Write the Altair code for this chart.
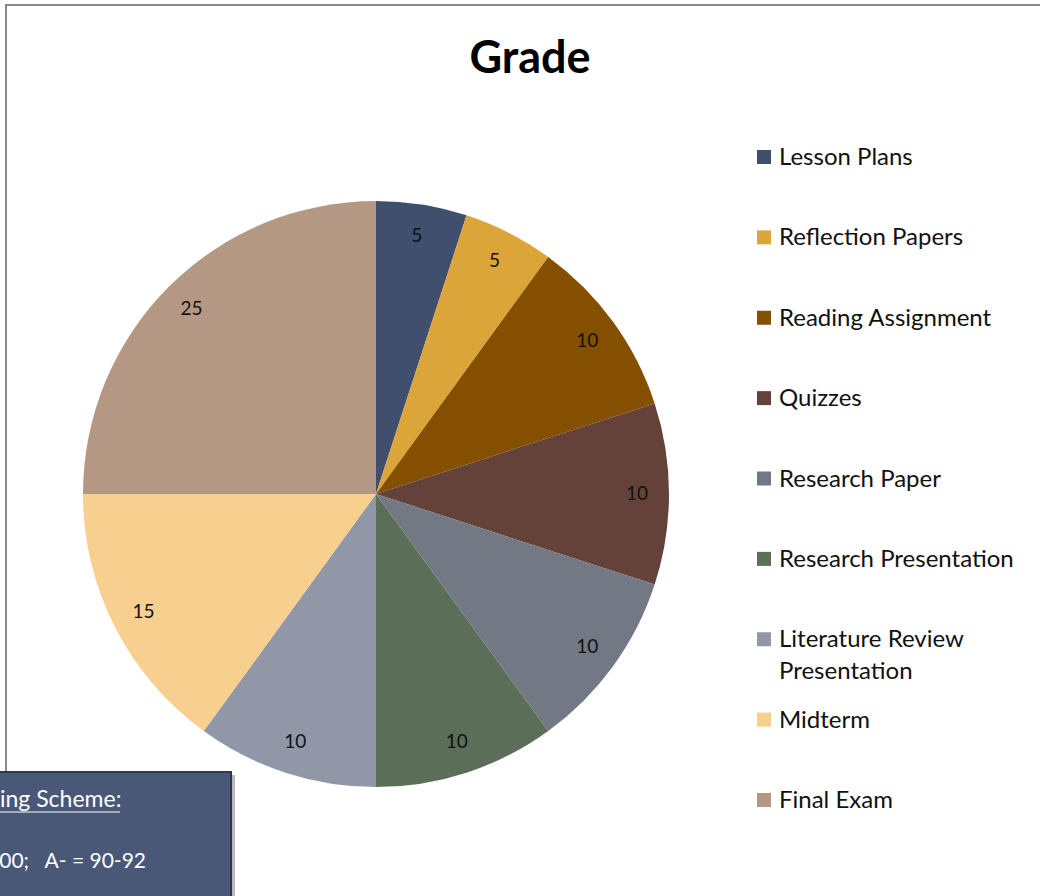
import altair as alt
import pandas as pd

categories = ["Lesson Plans", "Reflection Papers", "Reading Assignment", "Quizzes",
              "Research Paper", "Research Presentation", "Literature Review Presentation",
              "Midterm", "Final Exam"]
legend_labels = ["Lesson Plans", "Reflection Papers", "Reading Assignment", "Quizzes",
                 "Research Paper", "Research Presentation", "Literature Review\nPresentation",
                 "Midterm", "Final Exam"]
weights = [5, 5, 10, 10, 10, 10, 10, 15, 25]
colors = ["#3F4F6D", "#DBA53A", "#845000", "#654239", "#727984",
          "#5B6E58", "#9197A7", "#F7CF8F", "#B59883"]
title_text = "Grade"
# visible (clipped) part of the grading-scheme text box
scheme_lines = ["ing Scheme:", "00;\u00a0\u00a0\u00a0A- = 90-92"]

FONT = "Lato"

df = pd.DataFrame({
    "category": categories,
    "label": legend_labels,
    "weight": weights,
    "order": list(range(len(categories))),
})
one = pd.DataFrame({"k": [0]})

color = alt.Color("category:N", scale=alt.Scale(domain=categories, range=colors), legend=None)
theta = alt.Theta("weight:Q", stack=True)
order = alt.Order("order:Q")
cx, cy = alt.value(376), alt.value(494)

base = alt.Chart(df)

border = alt.Chart(one).mark_rect(fillOpacity=0, stroke="#888888", strokeWidth=2).encode(
    x=alt.value(6), x2=alt.value(1080), y=alt.value(5), y2=alt.value(940))

pie = base.mark_arc(outerRadius=293).encode(
    theta=theta, order=order, color=color, x=cx, y=cy)

slice_labels = base.mark_text(radius=261, fontSize=19, font=FONT, color="#111111").encode(
    theta=theta, order=order, text="weight:Q", x=cx, y=cy)

ysc = alt.Y("category:N", scale=alt.Scale(type="point", domain=categories, range=[157, 800], padding=0), axis=None)

leg_sq = base.mark_square(size=196, opacity=1).encode(
    x=alt.value(764), y=ysc, color=color)

leg_txt = base.mark_text(align="left", baseline="alphabetic", dy=8, fontSize=24, font=FONT,
                         lineBreak="\n", lineHeight=32, color="#111111").encode(
    x=alt.value(779), y=ysc, text="label:N")

title = alt.Chart(one).mark_text(text=title_text, fontSize=45, fontWeight="bold", font=FONT,
                                 align="center", baseline="alphabetic", color="#000000").encode(
    x=alt.value(530), y=alt.value(73))

shadow = alt.Chart(one).mark_rect(fill="#7F7F7F", opacity=0.55).encode(
    x=alt.value(-5), x2=alt.value(235), y=alt.value(775), y2=alt.value(940))

box = alt.Chart(one).mark_rect(fill="#4A5878", stroke="#2E3950", strokeWidth=2).encode(
    x=alt.value(-5), x2=alt.value(231), y=alt.value(772), y2=alt.value(940))

scheme1 = alt.Chart(one).mark_text(text=scheme_lines[0], fontSize=23, font=FONT, color="#FFFFFF",
                                   align="left", baseline="alphabetic").encode(
    x=alt.value(0), y=alt.value(807))
underline = alt.Chart(one).mark_rule(color="#FFFFFF", strokeWidth=1.2).encode(
    x=alt.value(0), x2=alt.value(120), y=alt.value(812))
scheme2 = alt.Chart(one).mark_text(text=scheme_lines[1], fontSize=21, font=FONT, color="#FFFFFF",
                                   align="right", baseline="alphabetic").encode(
    x=alt.value(146), y=alt.value(868))

chart = alt.layer(
    border, pie, slice_labels, leg_sq, leg_txt, title, shadow, box, scheme1, underline, scheme2
).properties(
    width=1040, height=896, autosize=alt.AutoSizeParams(type="none"), padding=0,
    background="#FFFFFF"
).configure_view(stroke=None)

chart.save("out.html", embed_options={"renderer": "svg", "actions": False})
